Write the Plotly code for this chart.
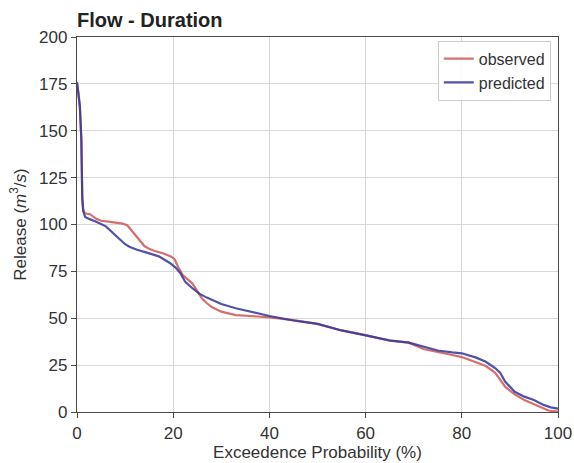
import plotly.graph_objects as go

# Observed flow-duration curve
pct_obs = [0, 0.3, 0.6, 0.9, 1.1, 1.3, 1.6, 2.7, 4, 5,
           6.5, 8, 9.5, 10.5, 12, 13, 14, 15, 16, 18,
           19.5, 20.3, 21, 22, 23, 24, 25, 26, 27, 28,
           30, 33, 36, 40, 45, 50, 55, 60, 65, 69,
           72, 75, 78, 80, 83, 85, 87, 88, 89, 90,
           91, 93, 95, 97, 98, 100]
flow_obs = [175, 170, 162, 145, 115, 108, 106, 105.5, 103, 102,
            101.5, 101, 100.5, 99.5, 95, 91.5, 88.5, 87, 86, 84.5,
            83, 81.5, 77.5, 73, 71, 68.5, 64.5, 60.5, 58, 56,
            53.5, 51.7, 51.2, 50.5, 49, 47, 43.5, 41, 38, 37,
            33.6, 32.2, 30.4, 29.3, 26.3, 24.5, 20.8, 17, 13.5, 11.4,
            9.4, 6.4, 4.3, 1.8, 0.8, 0.2]

# Predicted flow-duration curve
pct_pred = [0, 0.3, 0.6, 0.9, 1.1, 1.3, 1.7, 2.5, 4, 6,
            7, 8, 9, 10, 11, 12.5, 14.5, 17, 19.3, 20.5,
            21.5, 22.5, 24, 25.5, 27, 30, 33, 36, 40, 45,
            50, 55, 60, 65, 69, 72, 75, 78, 80, 83,
            85, 87, 88, 89, 90, 91, 93, 95, 97, 98.5,
            100]
flow_pred = [176, 170, 163, 146, 113, 107, 104, 103, 101.5, 99,
             96.5, 94, 91.5, 89.5, 88, 86.5, 85, 83, 79.5, 77,
             74, 69.5, 66, 63, 61, 57.6, 55.3, 53.5, 51.2, 48.8,
             47, 43.5, 41, 38.2, 37, 34.8, 32.8, 31.8, 31.3, 29,
             26.8, 23.3, 20.8, 16.2, 13.5, 10.8, 8.2, 6.4, 3.8, 2.5,
             1.8]

x_ticks = [0, 20, 40, 60, 80, 100]
y_ticks = [0, 25, 50, 75, 100, 125, 150, 175, 200]

FONT = "Arial, Liberation Sans, sans-serif"
TXT = "#333333"

fig = go.Figure()
fig.add_trace(go.Scatter(x=pct_obs, y=flow_obs, mode="lines", name="observed",
                         line=dict(color="#d0605e", width=2.2), opacity=0.9))
fig.add_trace(go.Scatter(x=pct_pred, y=flow_pred, mode="lines", name="predicted",
                         line=dict(color="#3a3a9c", width=2.2), opacity=0.88))

axis_common = dict(showline=True, mirror=True, linecolor="#4a4a4a", linewidth=1.3,
                   ticks="outside", ticklen=5, tickwidth=1.2, tickcolor="#4a4a4a",
                   showgrid=True, gridcolor="#d8d8d8", gridwidth=1.2, zeroline=False,
                   automargin=False,
                   tickfont=dict(family=FONT, size=17, color=TXT))

fig.update_xaxes(range=[0, 100], tickvals=x_ticks, **axis_common,
                 title=dict(text="Exceedence Probability (%)", standoff=4,
                            font=dict(family=FONT, size=17, color=TXT)))
fig.update_yaxes(range=[0, 200], tickvals=y_ticks, **axis_common,
                 title=dict(text="Release (<i>m</i><sup>3</sup>/<i>s</i>)", standoff=8,
                            font=dict(family=FONT, size=17, color=TXT)))

fig.update_layout(
    width=574, height=463,
    margin=dict(l=77, r=16, t=37, b=51),
    paper_bgcolor="white", plot_bgcolor="white",
    font=dict(family=FONT, color=TXT),
    title=dict(text="<b>Flow - Duration</b>", x=77/574, xanchor="left",
               y=1 - 20/463, yanchor="middle", font=dict(family=FONT, size=20, color="#222222")),
    legend=dict(x=0.985, y=0.99, xanchor="right", yanchor="top",
                bgcolor="rgba(255,255,255,0.9)", bordercolor="#cccccc", borderwidth=1,
                font=dict(family=FONT, size=16, color=TXT), itemwidth=30,
                tracegroupgap=0),
    showlegend=True,
)

fig.write_html("out.html", config={"displayModeBar": False},
               post_script="document.body.style.margin='0';document.body.style.padding='0';")
